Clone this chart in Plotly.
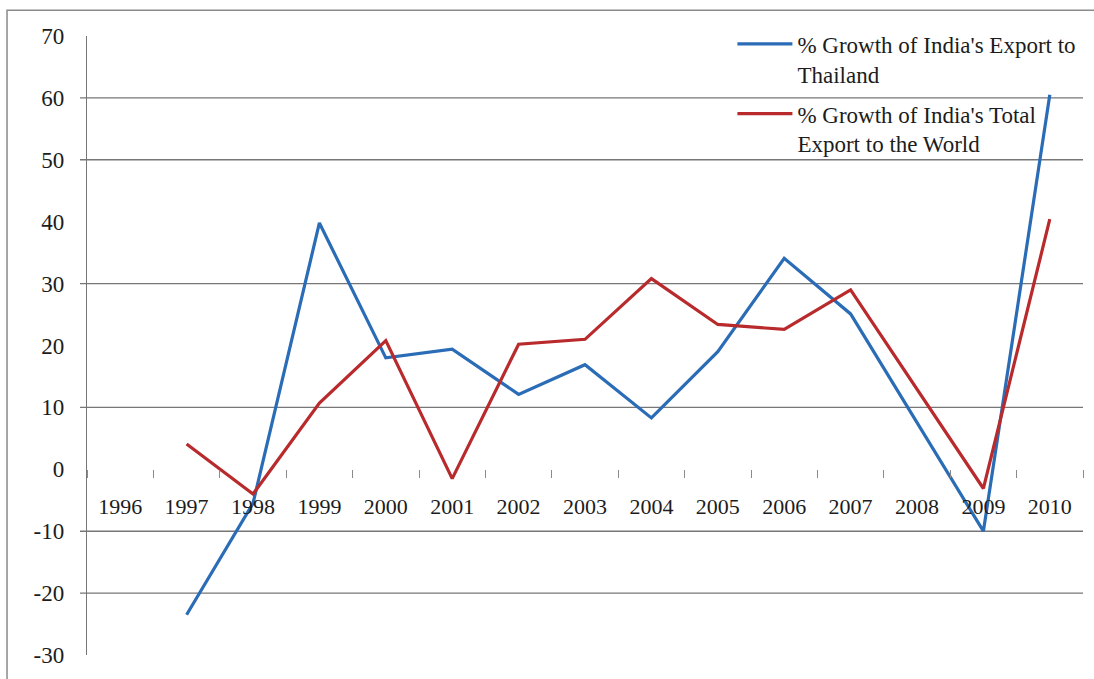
import plotly.graph_objects as go

# Years on the category axis
years = [str(y) for y in range(1996, 2011)]

# % growth of India's exports to Thailand (no value for 1996)
thailand_growth = [None, -23.5, -5.5, 39.8, 18.0, 19.4, 12.1, 16.9, 8.3, 19.0,
                   34.1, 25.1, 7.5, -10.0, 60.5]

# % growth of India's total exports to the world (no value for 1996)
world_growth = [None, 4.1, -4.0, 10.7, 20.8, -1.5, 20.2, 21.0, 30.8, 23.4,
                22.6, 29.0, 12.9, -3.1, 40.4]

# Value-axis labels and the horizontal rules that are drawn
y_ticks = list(range(-30, 80, 10))
grid_levels = [60, 50, 30, 10, -10, -20]

FONT = "'Liberation Serif', 'DejaVu Serif', 'Times New Roman', serif"
GRID = "#767676"

fig = go.Figure()
fig.add_trace(go.Scatter(
    x=years, y=thailand_growth, mode="lines",
    name="% Growth of India's Export to<br>Thailand",
    legendgroup="thailand",
    line=dict(color="#2a6cb6", width=3.2),
))
fig.add_trace(go.Scatter(
    x=years, y=world_growth, mode="lines",
    name="% Growth of India's Total<br>Export to the World",
    legendgroup="world",
    line=dict(color="#b82a2c", width=3.2),
))

# Horizontal rules with a short tick just left of the value axis
for lvl in grid_levels:
    fig.add_shape(type="line", xref="paper", yref="y",
                  x0=-0.007, x1=1.0, y0=lvl, y1=lvl,
                  line=dict(color=GRID, width=1.4), layer="below")

# Frame around the whole chart area
fig.add_shape(type="rect", xref="paper", yref="paper",
              x0=-0.0803, x1=1.03, y0=-0.06, y1=1.0417,
              line=dict(color="#8a8a8a", width=1.5), layer="below")

fig.update_layout(
    width=1094, height=679,
    margin=dict(l=87, r=11, t=36, b=19),
    paper_bgcolor="white", plot_bgcolor="white",
    font=dict(family=FONT, size=23, color="#1c1c1c"),
    showlegend=True,
    legend=dict(
        x=0.648, y=1.022, xanchor="left", yanchor="top",
        bgcolor="rgba(0,0,0,0)", valign="top",
        itemwidth=55, traceorder="grouped", tracegroupgap=7,
        font=dict(family=FONT, size=23, color="#1c1c1c"),
    ),
    xaxis=dict(
        type="category", categoryorder="array", categoryarray=years,
        range=[-0.5, 14.5],
        anchor="free", position=0.3,
        showline=False, showgrid=False, zeroline=False,
        ticks="outside", tickson="boundaries", ticklen=8,
        tickcolor="#8a8a8a", tickwidth=1,
        ticklabelstandoff=22,
        tickfont=dict(family=FONT, size=22, color="#1c1c1c"),
    ),
    yaxis=dict(
        range=[-30, 70], tickvals=y_ticks,
        ticktext=[str(v) for v in y_ticks],
        showline=True, linecolor=GRID, linewidth=1.4,
        showgrid=False, zeroline=False, ticks="",
        ticklabelstandoff=17,
        tickfont=dict(family=FONT, size=23, color="#1c1c1c"),
    ),
)

fig.write_html("out.html")
